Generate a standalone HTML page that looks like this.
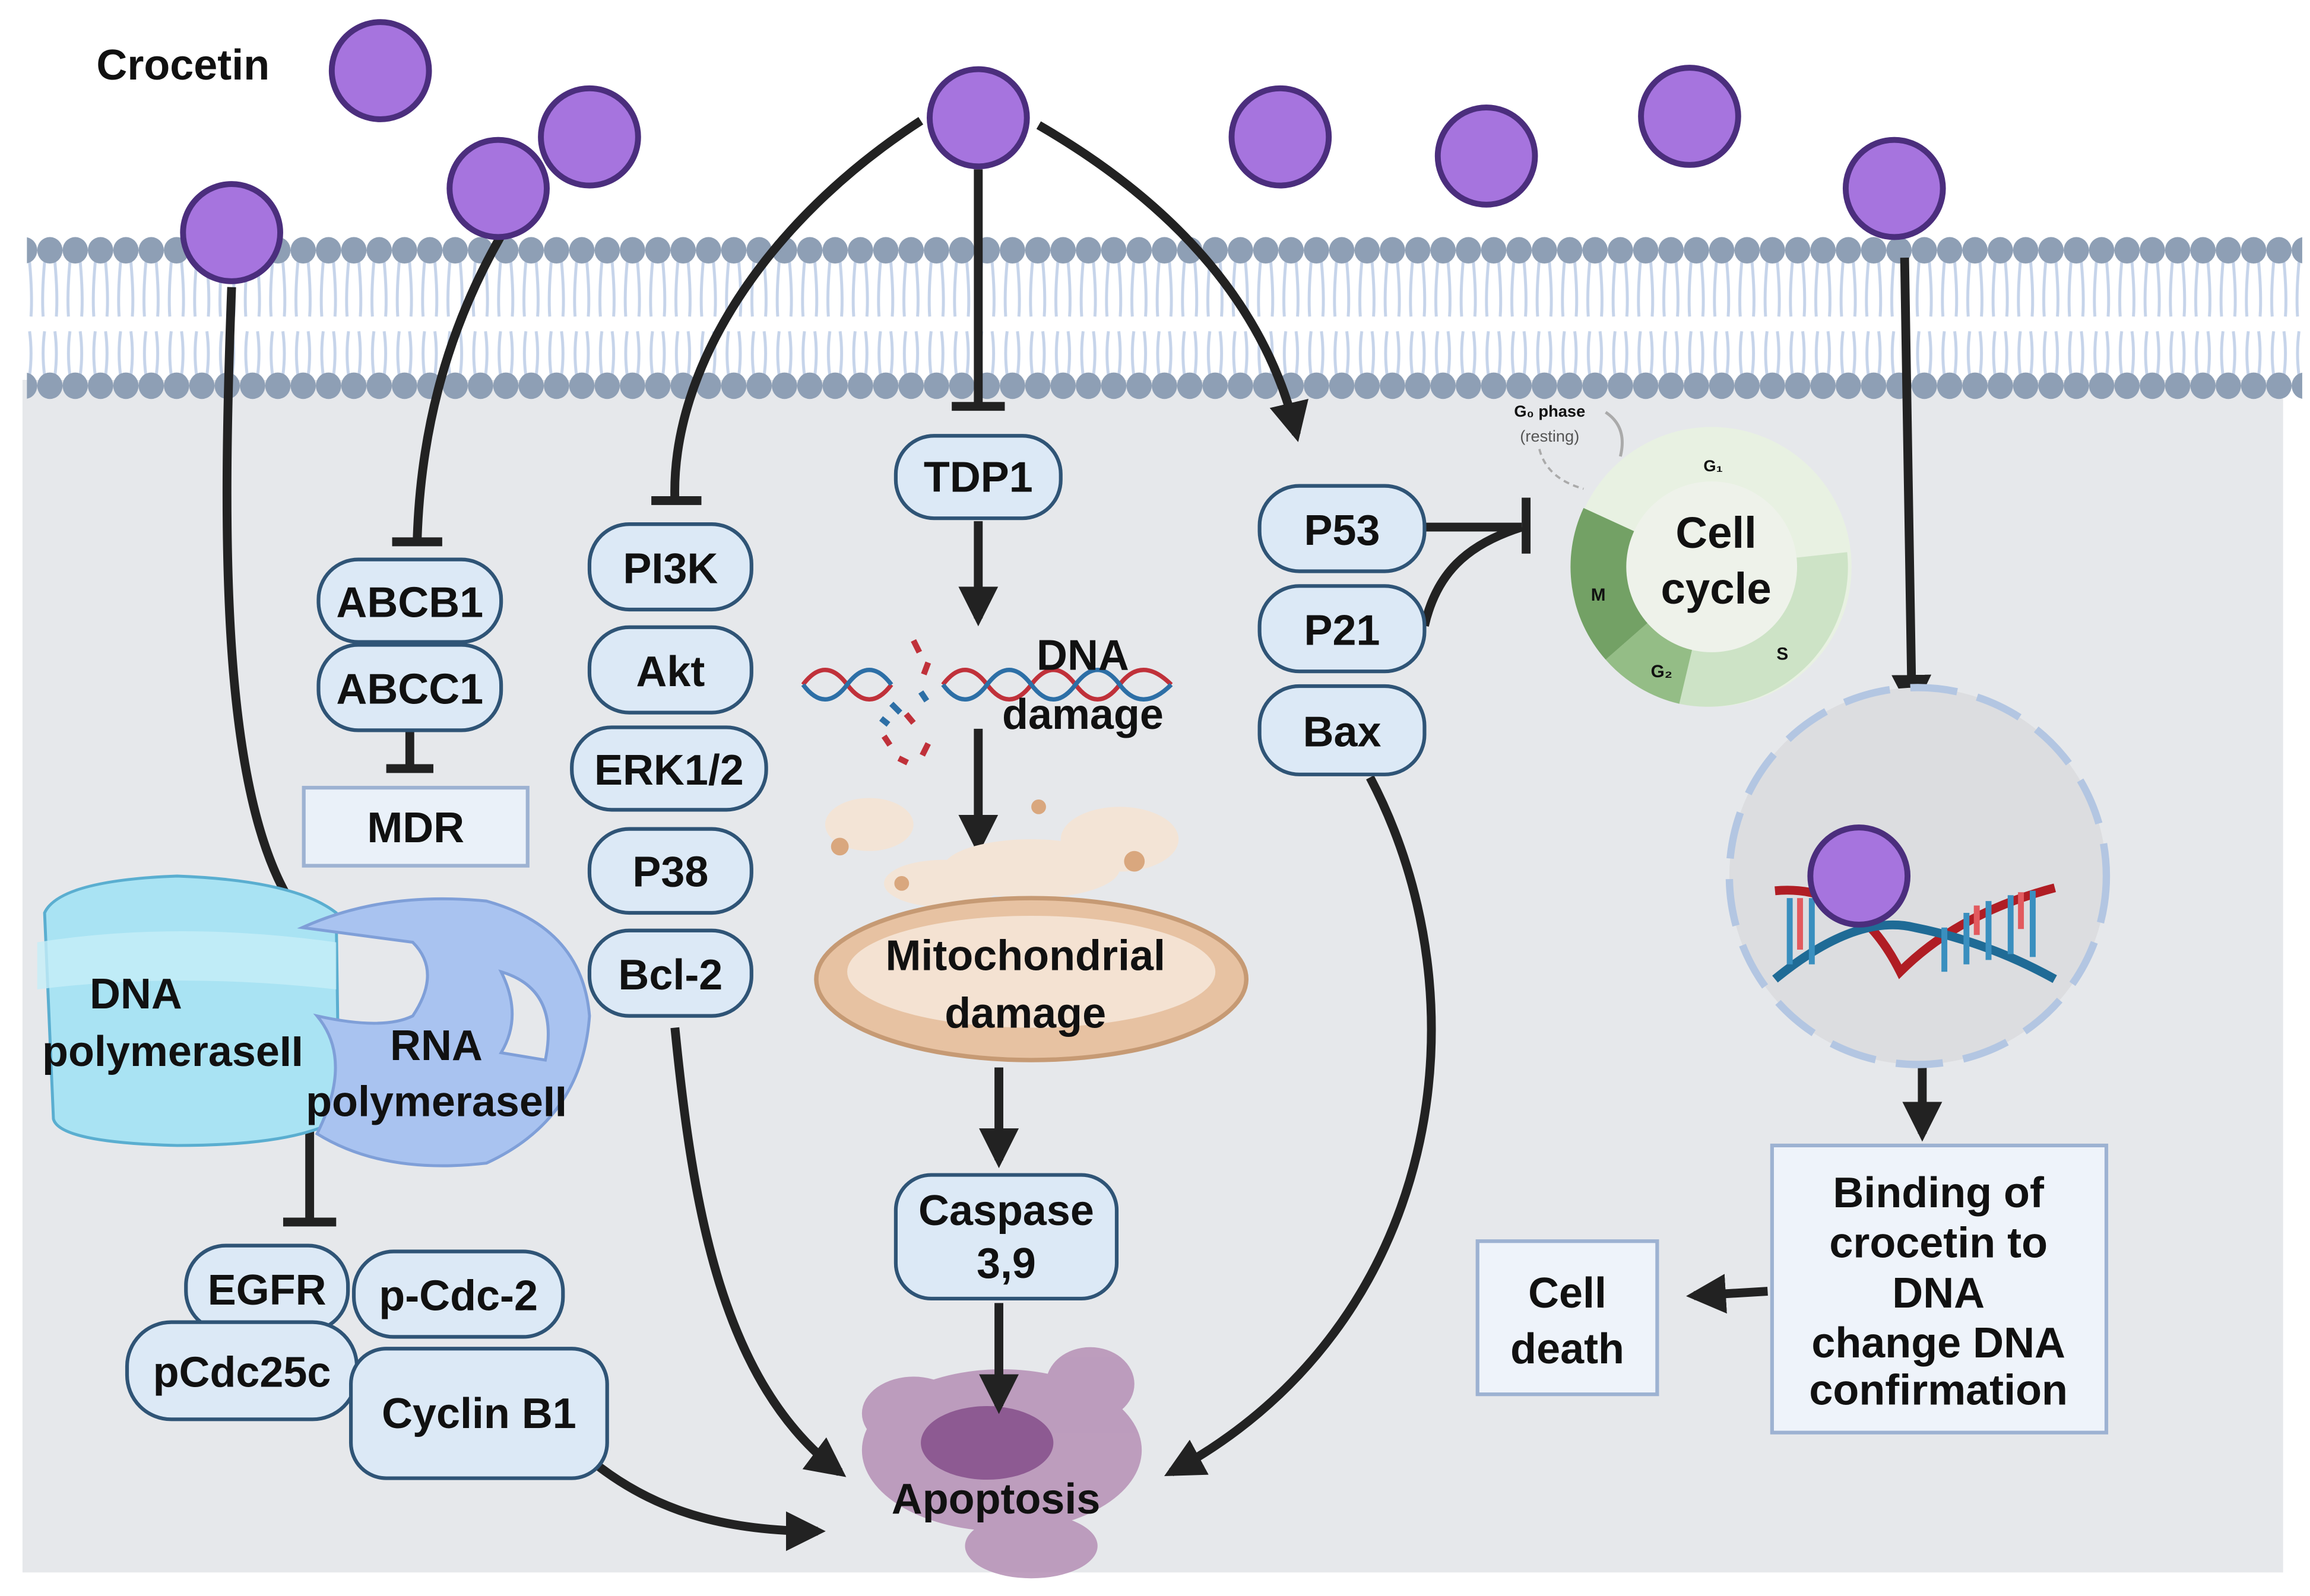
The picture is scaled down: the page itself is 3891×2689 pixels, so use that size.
<!DOCTYPE html>
<html><head><meta charset="utf-8"><style>
html,body{margin:0;padding:0;background:#fff;}
svg{display:block;}
text{font-family:"Liberation Sans",Arial,sans-serif;font-weight:bold;fill:#111;text-anchor:middle;}
</style></head><body>
<svg width="3891" height="2689" viewBox="0 0 1568 1084" xmlns="http://www.w3.org/2000/svg">
<defs>
<marker id="ah" viewBox="0 0 10 10" refX="8" refY="5" markerWidth="4.5" markerHeight="4.5" orient="auto" markerUnits="strokeWidth"><path d="M0,0 L10,5 L0,10 z" fill="#222"/></marker>
<pattern id="lip" x="25" y="0" width="17.2" height="1084" patternUnits="userSpaceOnUse">
<path d="M5,178 Q3,200 4,215 M12,178 Q14,200 13,215 M5,225 Q3,240 5,255 M12,225 Q14,240 12,255" stroke="#c6d4ea" stroke-width="2" fill="none"/>
<ellipse cx="8.6" cy="170" rx="8.6" ry="9" fill="#8e9fb5"/>
<ellipse cx="8.6" cy="262" rx="8.6" ry="9" fill="#8e9fb5"/>
</pattern>
</defs>
<rect width="1568" height="1084" fill="#fff"/>
<rect x="15" y="258" width="1535" height="810" fill="#e6e8eb"/>
<rect x="18" y="150" width="1545" height="130" fill="url(#lip)"/>

<text x="124" y="54" font-size="29" style="text-anchor:middle">Crocetin</text>

<!-- apoptosis (under arrows) -->
<g fill="#b58fb5" opacity="0.85">
<ellipse cx="680" cy="985" rx="95" ry="55"/><ellipse cx="620" cy="960" rx="35" ry="25"/><ellipse cx="740" cy="940" rx="30" ry="25"/><ellipse cx="700" cy="1050" rx="45" ry="22"/>
</g>
<ellipse cx="670" cy="980" rx="45" ry="25" fill="#8d5a92"/>

<!-- connectors -->
<g stroke="#222" stroke-width="6" fill="none" stroke-linecap="butt">
<path d="M157,195 C150,380 150,560 208,628"/>
<path d="M193,622 L222,636"/>
<path d="M340,160 C300,230 285,300 283,367"/>
<path d="M266,368 L300,368"/>
<path d="M625,82 C520,150 455,250 458,340"/>
<path d="M442,340 L476,340"/>
<path d="M664,115 L664,275"/>
<path d="M646,276 L682,276"/>
<path d="M705,85 C800,140 860,210 880,295" marker-end="url(#ah)"/>
<path d="M1293,175 L1298,480" marker-end="url(#ah)"/>
<path d="M664,354 L664,420" marker-end="url(#ah)"/>
<path d="M664,495 L664,575" marker-end="url(#ah)"/>
<path d="M678,725 L678,788" marker-end="url(#ah)"/>
<path d="M678,885 L678,955" marker-end="url(#ah)"/>
<path d="M278,497 L278,520"/>
<path d="M262,522 L294,522"/>
<path d="M210,745 L210,828"/>
<path d="M192,830 L228,830"/>
<path d="M458,698 C470,820 490,940 570,1000" marker-end="url(#ah)"/>
<path d="M405,995 C450,1030 500,1040 555,1040" marker-end="url(#ah)"/>
<path d="M930,528 C1010,680 980,900 795,1000" marker-end="url(#ah)"/>
<path d="M967,358 L1033,358"/>
<path d="M1036,338 L1036,376"/>
<path d="M967,425 C975,390 995,370 1033,358"/>
<path d="M1305,718 L1305,770" marker-end="url(#ah)"/>
<path d="M1200,877 L1150,880" marker-end="url(#ah)"/>
</g>

<!-- crocetin circles -->
<g fill="#a674de" stroke="#4b2e7d" stroke-width="4">
<circle cx="258" cy="48" r="33"/><circle cx="400" cy="93" r="33"/><circle cx="338" cy="128" r="33"/>
<circle cx="157" cy="158" r="33"/><circle cx="664" cy="80" r="33"/><circle cx="869" cy="93" r="33"/>
<circle cx="1009" cy="106" r="33"/><circle cx="1147" cy="79" r="33"/><circle cx="1286" cy="128" r="33"/>
</g>

<!-- boxes -->
<g fill="#dce9f6" stroke="#2f5476" stroke-width="2.5">
<rect x="608" y="296" width="112" height="56" rx="26"/>
<rect x="400" y="356" width="110" height="58" rx="27"/>
<rect x="400" y="426" width="110" height="58" rx="27"/>
<rect x="388" y="494" width="132" height="56" rx="27"/>
<rect x="400" y="563" width="110" height="57" rx="27"/>
<rect x="400" y="632" width="110" height="58" rx="27"/>
<rect x="216" y="380" width="124" height="56" rx="27"/>
<rect x="216" y="438" width="124" height="58" rx="27"/>
<rect x="855" y="330" width="112" height="58" rx="27"/>
<rect x="855" y="398" width="112" height="58" rx="27"/>
<rect x="855" y="466" width="112" height="60" rx="27"/>
<rect x="608" y="798" width="150" height="84" rx="24"/>
<rect x="126" y="846" width="110" height="58" rx="27"/>
<rect x="86" y="898" width="156" height="66" rx="30"/>
<rect x="240" y="850" width="142" height="58" rx="27"/>
<rect x="238" y="916" width="174" height="88" rx="24"/>
</g>
<rect x="206" y="535" width="152" height="53" fill="#eaf1f9" stroke="#9db2d2" stroke-width="2.5"/>
<rect x="1203" y="778" width="227" height="195" fill="#eef3fa" stroke="#9db2d2" stroke-width="2.5"/>
<rect x="1003" y="843" width="122" height="104" fill="#eef3fa" stroke="#9db2d2" stroke-width="2.5"/>

<!-- polymerases -->
<path d="M30,620 Q40,598 120,595 Q200,598 228,620 L230,760 Q200,778 120,778 Q40,776 36,760 Z" fill="#a9e3f3" stroke="#5aaed0" stroke-width="2"/>
<path d="M25,640 Q120,625 228,640 L228,672 Q120,660 25,672 Z" fill="#c6eef8" opacity="0.8"/>
<path d="M205,630 Q260,605 330,612 Q395,630 400,690 Q395,760 330,790 Q260,798 215,770 Q240,720 215,690 Q260,700 280,690 Q300,660 280,640 Z" fill="#a9c3f0" stroke="#7f9fd8" stroke-width="2"/>
<path d="M340,660 Q380,672 370,720 L340,715 Q355,690 340,660 Z" fill="#e6e8eb" stroke="#7f9fd8" stroke-width="2"/>

<!-- DNA damage -->
<g fill="none" stroke-width="3">
<path d="M545,465 Q560,445 575,465 T605,465" stroke="#c0313a"/>
<path d="M545,465 Q560,485 575,465 T605,465" stroke="#2d6fa6"/>
<path d="M640,465 Q655,445 670,465 T700,465 T730,465 T760,465 T795,465" stroke="#c0313a"/>
<path d="M640,465 Q655,485 670,465 T700,465 T730,465 T760,465 T795,465" stroke="#2d6fa6"/>
</g>
<g stroke-width="4"><path d="M620,435 l4,8 M630,450 l-3,8 M615,485 l5,6 M600,500 l4,6 M630,505 l-4,8 M610,515 l6,3" stroke="#c0313a"/><path d="M605,478 l6,6 M625,470 l4,6 M598,488 l5,4" stroke="#2d6fa6"/></g>

<!-- debris & mitochondria -->
<g fill="#f3e4d6"><ellipse cx="590" cy="560" rx="30" ry="18"/><ellipse cx="760" cy="570" rx="40" ry="22"/><ellipse cx="700" cy="590" rx="60" ry="20"/><ellipse cx="640" cy="600" rx="40" ry="16"/></g>
<g fill="#d9a77e"><circle cx="570" cy="575" r="6"/><circle cx="770" cy="585" r="7"/><circle cx="705" cy="548" r="5"/><circle cx="612" cy="600" r="5"/></g>
<ellipse cx="700" cy="665" rx="146" ry="55" fill="#e7c2a2" stroke="#c69a74" stroke-width="3"/>
<ellipse cx="700" cy="660" rx="125" ry="38" fill="#f4e2d2"/>

<!-- cell cycle -->
<circle cx="1162" cy="385" r="95" fill="#e8f1e2"/>
<path d="M1162,385 L1254,375 A95,95 0 0 1 1140,478 Z" fill="#cde3c6"/>
<path d="M1162,385 L1140,478 A95,95 0 0 1 1090,448 Z" fill="#94bd86"/>
<path d="M1162,385 L1090,448 A95,95 0 0 1 1075,345 Z" fill="#73a165"/>
<circle cx="1162" cy="385" r="58" fill="#eef2ea"/>
<text x="1165" y="372" font-size="30">Cell</text>
<text x="1165" y="410" font-size="30">cycle</text>
<text x="1163" y="320" font-size="11">G₁</text>
<text x="1210" y="448" font-size="12">S</text>
<text x="1128" y="460" font-size="12">G₂</text>
<text x="1085" y="408" font-size="12">M</text>
<text x="1052" y="283" font-size="11">G₀ phase</text>
<text x="1052" y="300" font-size="11" style="font-weight:normal;fill:#555">(resting)</text>
<path d="M1090,280 Q1105,290 1100,310" stroke="#aaa" stroke-width="2" fill="none"/>
<path d="M1045,305 Q1050,325 1075,332" stroke="#aaa" stroke-width="1.5" stroke-dasharray="4,3" fill="none"/>

<!-- nucleus -->
<circle cx="1302" cy="595" r="128" fill="#dcdde0" stroke="#b3c6e2" stroke-width="5" stroke-dasharray="32,14"/>
<path d="M1205,605 Q1260,600 1290,660 Q1330,620 1395,603" stroke="#b01d24" stroke-width="6" fill="none"/>
<path d="M1205,665 Q1260,620 1300,630 Q1350,640 1395,665" stroke="#1f6b96" stroke-width="6" fill="none"/>
<g stroke-width="4"><path d="M1215,610 v45 M1230,610 v45 M1320,630 v30 M1335,620 v35 M1350,612 v40 M1365,608 v40 M1380,605 v45" stroke="#3a8fbf"/><path d="M1222,610 v35 M1342,615 v20 M1372,606 v25" stroke="#e25a5f"/></g>
<circle cx="1262" cy="595" r="33" fill="#a674de" stroke="#4b2e7d" stroke-width="4"/>

<!-- labels -->
<g font-size="29">
<text x="664" y="334">TDP1</text>
<text x="455" y="396">PI3K</text>
<text x="455" y="466">Akt</text>
<text x="454" y="533">ERK1/2</text>
<text x="455" y="602">P38</text>
<text x="455" y="672">Bcl-2</text>
<text x="278" y="419">ABCB1</text>
<text x="278" y="478">ABCC1</text>
<text x="282" y="572">MDR</text>
<text x="911" y="370">P53</text>
<text x="911" y="438">P21</text>
<text x="911" y="507">Bax</text>
<text x="683" y="832">Caspase</text>
<text x="683" y="868">3,9</text>
<text x="181" y="886">EGFR</text>
<text x="164" y="942">pCdc25c</text>
<text x="311" y="890">p-Cdc-2</text>
<text x="325" y="970">Cyclin B1</text>
<text x="735" y="455">DNA</text>
<text x="735" y="495">damage</text>
<text x="696" y="659">Mitochondrial</text>
<text x="696" y="698">damage</text>
<text x="676" y="1028">Apoptosis</text>
<text x="92" y="685">DNA</text>
<text x="117" y="724">polymeraseII</text>
<text x="296" y="720">RNA</text>
<text x="296" y="758">polymeraseII</text>
<text x="1064" y="888">Cell</text>
<text x="1064" y="926">death</text>
<text x="1316" y="820">Binding of</text>
<text x="1316" y="854">crocetin to</text>
<text x="1316" y="888">DNA</text>
<text x="1316" y="922">change DNA</text>
<text x="1316" y="954">confirmation</text>
</g>
</svg>
</body></html>
